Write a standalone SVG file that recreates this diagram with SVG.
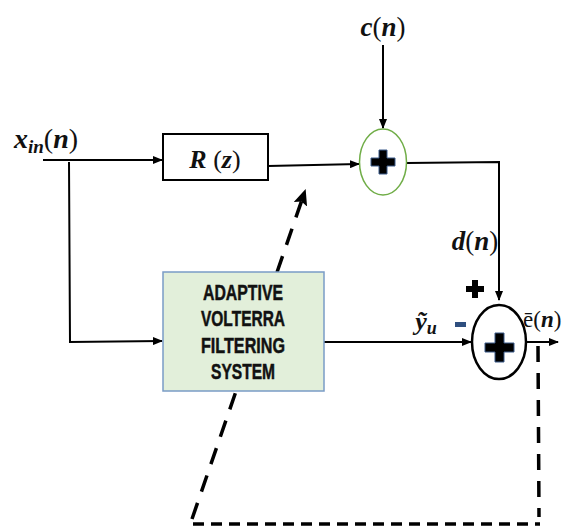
<svg xmlns="http://www.w3.org/2000/svg" width="562" height="529" viewBox="0 0 562 529">
<defs>
<marker id="ar" markerWidth="10" markerHeight="8" refX="9" refY="4" orient="auto" markerUnits="userSpaceOnUse">
<path d="M0,0 L10,4 L0,8 Z" fill="#000"/>
</marker>
<marker id="ard" markerWidth="16" markerHeight="14" refX="14" refY="7" orient="auto" markerUnits="userSpaceOnUse">
<path d="M0,0 L16,7 L0,14 L3,7 Z" fill="#000"/>
</marker>
</defs>
<style>
.ln{fill:none;stroke:#000;stroke-width:2}
.dash{fill:none;stroke:#000;stroke-width:3.5}
.m{font-family:"Liberation Serif",serif;font-style:italic;font-weight:bold;fill:#111}
.u{font-style:normal;font-weight:normal}
.box{font-family:"Liberation Sans",Arial,sans-serif;font-weight:bold;font-size:22px;fill:#111;stroke:#111;stroke-width:0.5}
.plus{fill:#000;stroke:#3a5a8a;stroke-width:1}
</style>
<g id="connectors">
<path class="ln" d="M43,160 L162,160" marker-end="url(#ar)"/>
<path class="ln" d="M69,162 L70,342 L162,341" marker-end="url(#ar)"/>
<path class="ln" d="M268,166 L359,164" marker-end="url(#ar)"/>
<path class="ln" d="M383,45 L383,128" marker-end="url(#ar)"/>
<path class="ln" d="M407,163 L499,162 L499,300" marker-end="url(#ar)"/>
<path class="ln" d="M324,342 L471,342" marker-end="url(#ar)"/>
<path class="ln" d="M526,342 L558,342" marker-end="url(#ar)"/>
<path class="dash" d="M538,346 L539,517" stroke-dasharray="16,11"/>
<path class="dash" d="M193,524 L540,524" stroke-dasharray="11,7"/>
<path class="dash" d="M192,519 L305,191" stroke-dasharray="17,12" marker-end="url(#ard)"/>
</g>
<g id="xin-label">
<text class="m" x="14" y="148" font-size="28">x<tspan font-size="19" dy="5">in</tspan><tspan dy="-5" class="u">(</tspan>n<tspan class="u">)</tspan></text>
</g>
<g id="Rz">
<rect x="163" y="134" width="105" height="46" fill="#fff" stroke="#000" stroke-width="2"/>
<text class="m" x="215" y="168" font-size="26" text-anchor="middle">R <tspan class="u">(</tspan>z<tspan class="u">)</tspan></text>
</g>
<g id="cn-label">
<text class="m" x="383" y="36" font-size="27" text-anchor="middle">c<tspan class="u">(</tspan>n<tspan class="u">)</tspan></text>
</g>
<g id="sum1">
<ellipse cx="383" cy="162" rx="23.5" ry="33" fill="#fff" stroke="#70ad47" stroke-width="1.5"/>
<path class="plus" d="M379,150 h8 v8 h8 v8 h-8 v8 h-8 v-8 h-8 v-8 h8 Z"/>
</g>
<g id="dn-label">
<text class="m" x="475" y="250" font-size="27" text-anchor="middle">d<tspan class="u">(</tspan>n<tspan class="u">)</tspan></text>
</g>
<g id="avfs">
<rect x="163" y="272" width="161" height="119" fill="#e2efda" stroke="#7a9cc6" stroke-width="1.5"/>
<text class="box" x="243" y="300" text-anchor="middle" textLength="80" lengthAdjust="spacingAndGlyphs">ADAPTIVE</text>
<text class="box" x="243" y="326" text-anchor="middle" textLength="84" lengthAdjust="spacingAndGlyphs">VOLTERRA</text>
<text class="box" x="243" y="353" text-anchor="middle" textLength="84" lengthAdjust="spacingAndGlyphs">FILTERING</text>
<text class="box" x="243" y="379" text-anchor="middle" textLength="64" lengthAdjust="spacingAndGlyphs">SYSTEM</text>
</g>
<g id="yu-label">
<text class="m" x="426" y="330" font-size="26" text-anchor="middle" font-weight="normal">ỹ<tspan font-size="18" dy="4">u</tspan></text>
</g>
<g id="signs">
<path d="M472,280 h6 v6 h6 v6 h-6 v6 h-6 v-6 h-6 v-6 h6 Z" fill="#000"/>
<rect x="455" y="322" width="11" height="5" fill="#2f4f7f"/>
</g>
<g id="sum2">
<ellipse cx="499" cy="342" rx="27" ry="37" fill="#fff" stroke="#000" stroke-width="2.5"/>
<path class="plus" d="M495,333 h9 v10 h10 v9 h-10 v10 h-9 v-10 h-10 v-9 h10 Z"/>
</g>
<g id="en-label">
<text class="m" x="523" y="327" font-size="23"><tspan class="u">ē(</tspan>n<tspan class="u">)</tspan></text>
</g>
</svg>
